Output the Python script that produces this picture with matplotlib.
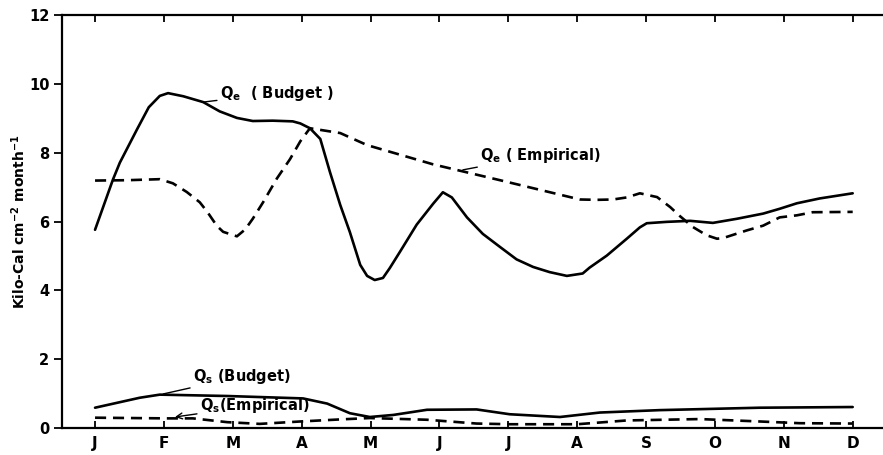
import numpy as np
import matplotlib
matplotlib.use('Agg')
import matplotlib.pyplot as plt

# Month axis
months = ['J', 'F', 'M', 'A', 'M', 'J', 'J', 'A', 'S', 'O', 'N', 'D']
y_ticks = [0, 2, 4, 6, 8, 10, 12]

# Latent heat, budget method (position in months from Jan, kcal cm-2 month-1)
qe_budget_t = [0.0, 0.26, 0.36, 0.61, 0.78, 0.94, 1.06, 1.28, 1.57, 1.81,
               2.06, 2.29, 2.58, 2.87, 2.98, 3.12, 3.27, 3.41, 3.56, 3.70, 3.85,
               3.95, 4.06, 4.18, 4.28, 4.43, 4.67, 4.91, 5.05, 5.18, 5.40,
               5.63, 5.88, 6.12, 6.36, 6.60, 6.85, 7.08, 7.18, 7.43, 7.72, 7.91,
               8.01, 8.30, 8.64, 8.97, 9.32, 9.70, 9.94, 10.19, 10.52, 11.0]
qe_budget = [5.76, 7.22, 7.71, 8.68, 9.32, 9.65, 9.73, 9.64, 9.47, 9.20,
             9.01, 8.92, 8.93, 8.91, 8.85, 8.71, 8.40, 7.44, 6.48, 5.69, 4.74,
             4.42, 4.30, 4.36, 4.65, 5.13, 5.91, 6.52, 6.85, 6.70, 6.12,
             5.64, 5.26, 4.90, 4.68, 4.53, 4.42, 4.49, 4.66, 5.01, 5.50, 5.83,
             5.95, 5.99, 6.02, 5.96, 6.08, 6.23, 6.37, 6.53, 6.67, 6.82]

# Latent heat, empirical formula
qe_emp_t = [0.0, 0.46, 0.94, 1.13, 1.33, 1.52, 1.63, 1.77, 1.86, 2.06, 2.18,
            2.29, 2.44, 2.64, 2.83, 2.98, 3.12, 3.56, 3.95, 4.91, 5.88, 7.04,
            7.29, 7.52, 7.72, 7.91, 8.16, 8.35, 8.49, 8.68, 8.88, 9.03, 9.12,
            9.46, 9.70, 9.94, 10.19, 10.42, 11.0]
qe_emp = [7.19, 7.20, 7.23, 7.11, 6.86, 6.56, 6.28, 5.87, 5.70, 5.57, 5.77,
          6.08, 6.56, 7.25, 7.81, 8.33, 8.71, 8.57, 8.22, 7.66, 7.20, 6.64,
          6.63, 6.64, 6.70, 6.82, 6.71, 6.42, 6.16, 5.84, 5.60, 5.50, 5.52,
          5.74, 5.88, 6.12, 6.18, 6.27, 6.28]

# Sensible heat, budget method
qs_budget_t = [0.0, 0.65, 0.94, 1.92, 3.02, 3.37, 3.70, 3.99, 4.33, 4.82, 5.54,
               6.02, 6.75, 7.33, 8.20, 9.65, 11.0]
qs_budget = [0.59, 0.88, 0.97, 0.93, 0.86, 0.71, 0.43, 0.32, 0.38, 0.53, 0.54,
             0.40, 0.32, 0.45, 0.52, 0.59, 0.61]

# Sensible heat, empirical formula
qs_emp_t = [0.0, 1.04, 1.42, 1.92, 2.39, 2.98, 3.56, 3.99, 4.82, 5.54, 6.02, 7.0,
            7.72, 8.78, 9.65, 10.23, 11.0]
qs_emp = [0.30, 0.28, 0.28, 0.17, 0.12, 0.19, 0.25, 0.29, 0.24, 0.13, 0.11, 0.11,
          0.22, 0.26, 0.19, 0.14, 0.13]

plt.rcParams['font.family'] = ['DejaVu Sans']
plt.rcParams['mathtext.default'] = 'regular'

fig = plt.figure(figsize=(8.83, 4.55), dpi=100)
ax = fig.add_axes([0.0702, 0.0593, 0.9298, 0.9077])

lw = 1.9
dash = (0, (4.2, 2.6))
ax.plot(qe_budget_t, qe_budget, color='k', lw=lw, solid_joinstyle='round', solid_capstyle='round')
ax.plot(qe_emp_t, qe_emp, color='k', lw=lw, ls=dash)
ax.plot(qs_budget_t, qs_budget, color='k', lw=lw, solid_joinstyle='round', solid_capstyle='round')
ax.plot(qs_emp_t, qs_emp, color='k', lw=lw, ls=dash)

# Axes frame
ax.set_xlim(-0.48, 11.44)
ax.set_ylim(0, 12)
ax.spines['right'].set_visible(False)
for s in ['left', 'top', 'bottom']:
    ax.spines[s].set_linewidth(1.6)

ax.set_xticks(np.arange(len(months)))
ax.set_xticklabels(months, fontsize=11, fontweight='bold')
ax.set_yticks(y_ticks)
ax.set_yticklabels([str(t) for t in y_ticks], fontsize=10.5, fontweight='bold')
ax.tick_params(axis='x', direction='in', length=5, width=1.3, top=True, pad=6)
ax.tick_params(axis='y', direction='out', length=6, width=1.3, pad=3)
ax.set_ylabel('Kilo-Cal cm$^{-2}$ month$^{-1}$', fontsize=10, fontweight='bold', labelpad=1)

# Curve labels with leader lines
txt = dict(fontsize=10.5, fontweight='bold', color='k')
line = dict(arrowstyle='-', color='k', lw=1.0, shrinkA=0, shrinkB=0)
ax.annotate('Q$_e$  ( Budget )', xy=(1.57, 9.47), xytext=(1.81, 9.6),
            arrowprops=line, va='baseline', ha='left', **txt)
ax.annotate('Q$_e$ ( Empirical)', xy=(5.34, 7.5), xytext=(5.59, 7.8),
            arrowprops=line, va='baseline', ha='left', **txt)
ax.annotate('Q$_s$ (Budget)', xy=(0.99, 0.99), xytext=(1.42, 1.37),
            arrowprops=line, va='baseline', ha='left', **txt)
ax.annotate('Q$_s$(Empirical)', xy=(1.16, 0.32), xytext=(1.52, 0.52),
            arrowprops=dict(arrowstyle='->', color='k', lw=1.0, shrinkA=0, shrinkB=0),
            va='baseline', ha='left', **txt)

fig.savefig('out.png', dpi=100)
